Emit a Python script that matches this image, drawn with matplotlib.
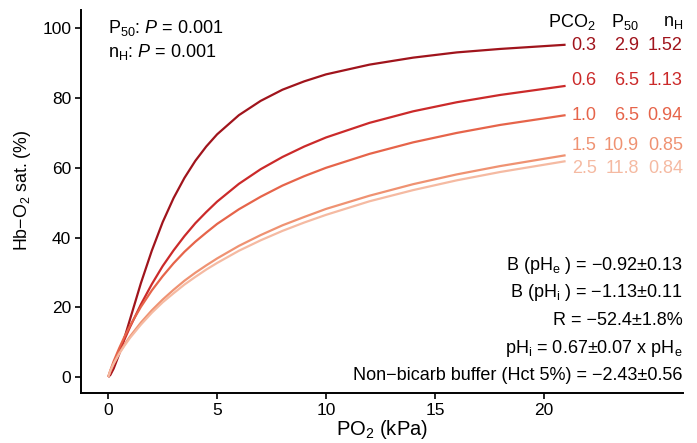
import numpy as np
import matplotlib
matplotlib.use("Agg")
import matplotlib.pyplot as plt

plt.rcParams['font.family'] = ['Liberation Sans', 'DejaVu Sans']
plt.rcParams['mathtext.fontset'] = 'custom'
plt.rcParams['mathtext.rm'] = 'Liberation Sans'
plt.rcParams['mathtext.it'] = 'Liberation Sans:italic'

# PO2 sample points (kPa) and saturation (%)
po2 = [0, 0.1, 0.25, 0.5, 0.75, 1, 1.5, 2, 2.5, 3, 3.5, 4, 4.5, 5, 6, 7, 8, 9, 10, 12, 14, 16, 18, 21]
sat_03 = [0, 0.6, 2.4, 6.5, 11.3, 16.5, 26.9, 36.2, 44.4, 51.3, 57.1, 62.0, 66.1, 69.6,
          75.1, 79.2, 82.4, 84.8, 86.8, 89.6, 91.6, 93.1, 94.1, 95.3]
sat_06 = [0, 1.2, 3.4, 7.1, 10.8, 14.3, 20.8, 26.6, 31.8, 36.3, 40.4, 44.1, 47.3, 50.3,
          55.4, 59.6, 63.1, 66.1, 68.7, 72.9, 76.2, 78.8, 80.9, 83.5]
sat_10 = [0, 1.9, 4.5, 8.2, 11.6, 14.7, 20.1, 24.8, 28.9, 32.6, 35.9, 38.8, 41.4, 43.9,
          48.1, 51.7, 54.9, 57.6, 60.0, 64.0, 67.3, 70.0, 72.3, 75.1]
sat_15 = [0, 1.8, 3.9, 6.8, 9.3, 11.6, 15.6, 19.1, 22.2, 25.0, 27.6, 29.9, 32.0, 34.0,
          37.6, 40.7, 43.5, 45.9, 48.2, 52.0, 55.3, 58.1, 60.5, 63.6]
sat_25 = [0, 1.8, 3.8, 6.6, 9.0, 11.2, 15.0, 18.4, 21.4, 24.0, 26.5, 28.7, 30.8, 32.7,
          36.2, 39.2, 41.9, 44.3, 46.5, 50.4, 53.6, 56.4, 58.8, 61.9]

pco2 = ["0.3", "0.6", "1.0", "1.5", "2.5"]
p50 = ["2.9", "6.5", "6.5", "10.9", "11.8"]
nh = ["1.52", "1.13", "0.94", "0.85", "0.84"]
label_y = [95.1, 85.1, 75.1, 66.5, 59.9]
colors = ["#a0141c", "#cb2a2a", "#e6644a", "#ef9272", "#f5baa2"]

stats = [r"B (pH$_\mathregular{e}$ ) = −0.92±0.13",
         r"B (pH$_\mathregular{i}$ ) = −1.13±0.11",
         "R = −52.4±1.8%",
         r"pH$_\mathregular{i}$ = 0.67±0.07 x pH$_\mathregular{e}$",
         "Non−bicarb buffer (Hct 5%) = −2.43±0.56"]

fig = plt.figure(figsize=(6.97, 4.43), dpi=100)
ax = fig.add_axes([0.1162, 0.1129, 0.864, 0.864])

for s, c in zip([sat_03, sat_06, sat_10, sat_15, sat_25], colors):
    ax.plot(po2, s, color=c, lw=1.6, solid_capstyle='butt')

fs = 13
for i in range(5):
    ax.text(21.28, label_y[i], pco2[i], color=colors[i], fontsize=fs, ha='left', va='center')
    ax.text(24.36, label_y[i], p50[i], color=colors[i], fontsize=fs, ha='right', va='center')
    ax.text(26.38, label_y[i], nh[i], color=colors[i], fontsize=fs, ha='right', va='center')
ax.text(22.39, 101.8, r"PCO$_\mathregular{2}$", fontsize=fs, ha='right', va='center')
ax.text(24.36, 101.8, r"P$_\mathregular{50}$", fontsize=fs, ha='right', va='center')
ax.text(26.38, 101.8, r"n$_\mathregular{H}$", fontsize=fs, ha='right', va='center')

ax.text(0, 100.0, r"P$_\mathregular{50}$: $P$ = 0.001", fontsize=fs, ha='left', va='center')
ax.text(0, 93.1, r"n$_\mathregular{H}$: $P$ = 0.001", fontsize=fs, ha='left', va='center')

for k, t in enumerate(stats):
    ax.text(26.38, 32.1 - 7.95 * k, t, fontsize=fs, ha='right', va='center')

ax.set_xlim(-1.25, 26.4)
ax.set_ylim(-4.6, 105.2)
ax.set_xticks([0, 5, 10, 15, 20])
ax.set_yticks([0, 20, 40, 60, 80, 100])
for side in ['top', 'right']:
    ax.spines[side].set_visible(False)
for side in ['left', 'bottom']:
    ax.spines[side].set_linewidth(1.4)
ax.tick_params(width=1.2, length=4, labelsize=12.5, color='black', pad=3)
ax.set_xlabel(r"PO$_\mathregular{2}$ (kPa)", fontsize=14.5)
ax.xaxis.set_label_coords(0.5, -0.066)
ax.set_ylabel(r"Hb−O$_\mathregular{2}$ sat. (%)", fontsize=12.8)
ax.yaxis.set_label_coords(-0.08, 0.53)

fig.savefig("out.png", dpi=100)
